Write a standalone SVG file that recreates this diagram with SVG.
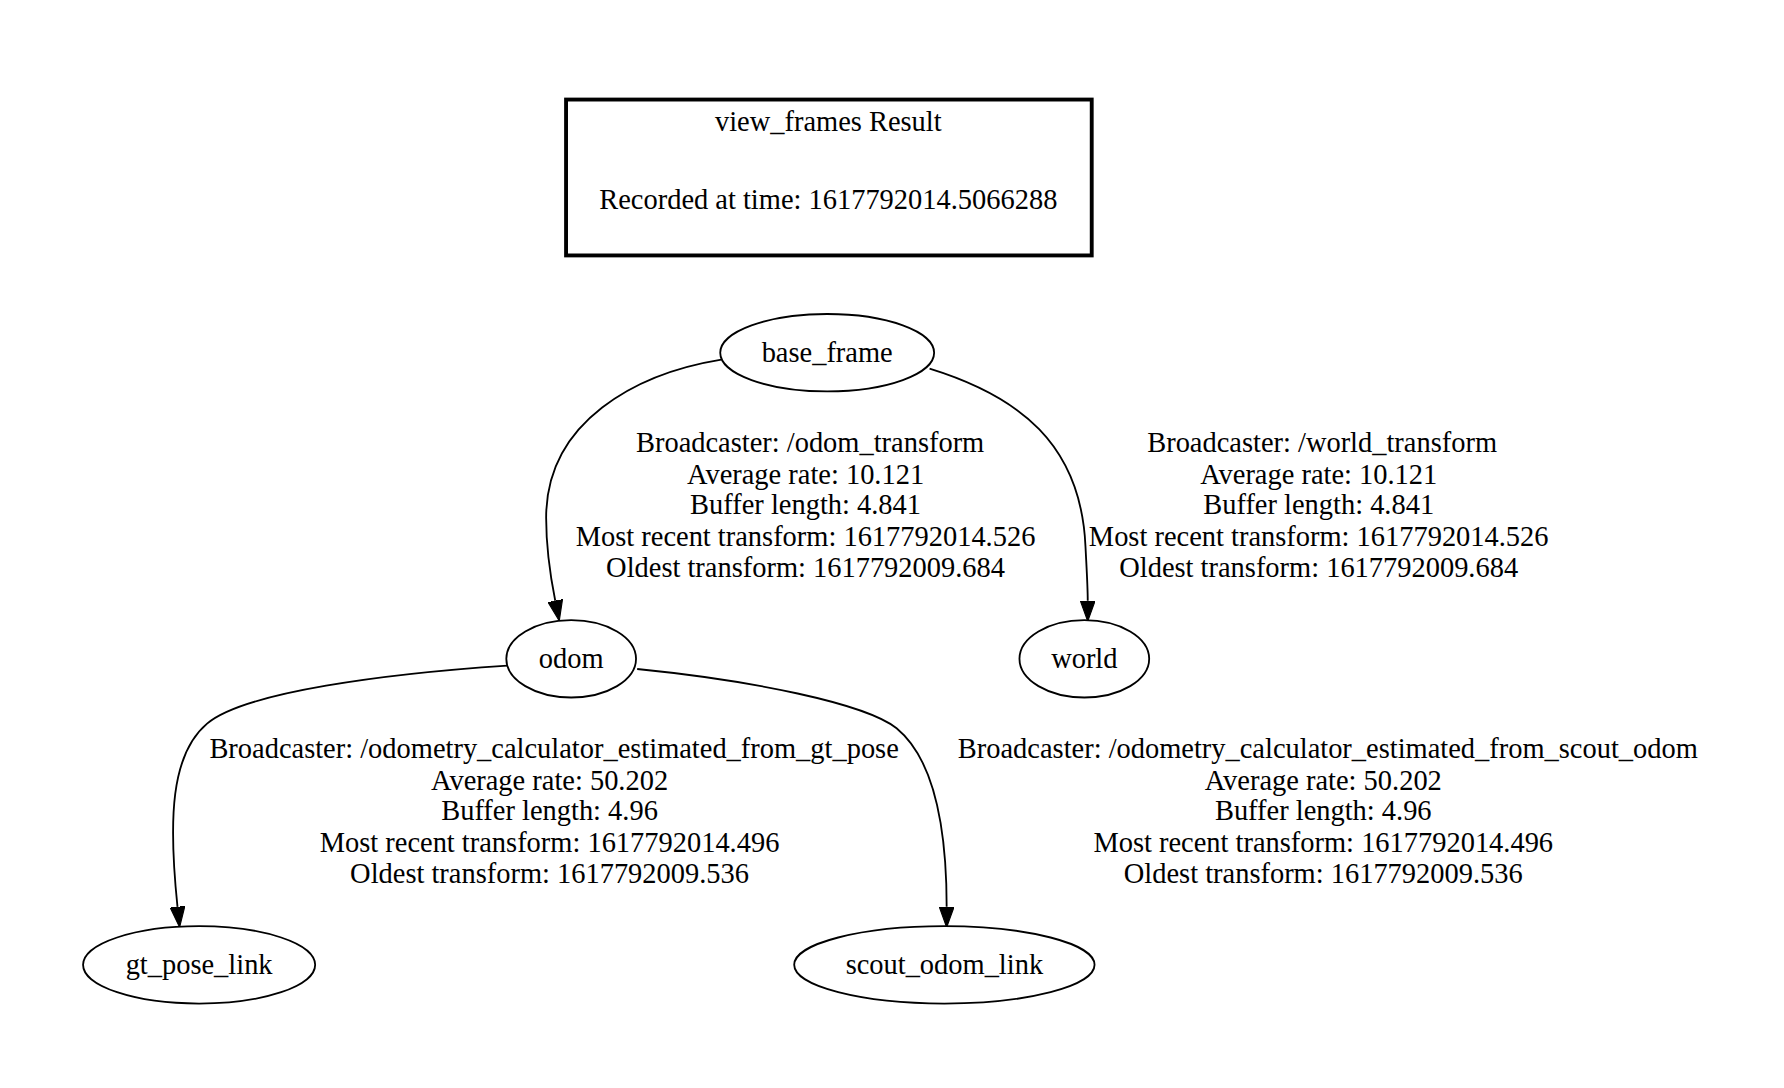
<svg xmlns="http://www.w3.org/2000/svg" width="1784" height="1088" viewBox="0 0 1784 1088">
<style>
text{font-family:"Liberation Serif","Times New Roman",serif;font-size:25px;fill:#000;text-anchor:middle}
.node{fill:none;stroke:#000;stroke-width:1.6}
.edge{fill:none;stroke:#000;stroke-width:1.6}
</style>
<defs>
<marker id="arr" viewBox="0 0 18 13" refX="0" refY="6.5" markerWidth="18" markerHeight="13" markerUnits="userSpaceOnUse" orient="auto">
<path d="M0,0 L18,6.5 L0,13 z" fill="#000" stroke="#000" stroke-width="1"/>
</marker>
</defs>
<rect width="1784" height="1088" fill="#fff"/>
<g transform="scale(1.1378)">
<g id="title">
<rect x="497.5" y="87.5" width="462" height="137" fill="none" stroke="#000" stroke-width="3.4"/>
<text x="728" y="115">view_frames Result</text>
<text x="728" y="184">Recorded at time: 1617792014.5066288</text>
</g>
<g id="connectors">
<path class="edge" d="M634,316 C560,328 480,370 480,455 C480,480 484,508 488,528" marker-end="url(#arr)"/>
<path class="edge" d="M817,324 C895,348 950,390 954,480 C955,500 956,515 956,528" marker-end="url(#arr)"/>
<path class="edge" d="M446,585 C340,592 215,608 182,636 C150,663 148,720 156,797" marker-end="url(#arr)"/>
<path class="edge" d="M560,588 C660,598 760,618 788,640 C822,668 832,730 832,797" marker-end="url(#arr)"/>
<g id="label_odom_transform">
<text x="712" y="397">Broadcaster: /odom_transform</text>
<text x="708" y="425">Average rate: 10.121</text>
<text x="708" y="452">Buffer length: 4.841</text>
<text x="708" y="480">Most recent transform: 1617792014.526</text>
<text x="708" y="507">Oldest transform: 1617792009.684</text>
</g>
<g id="label_world_transform">
<text x="1162" y="397">Broadcaster: /world_transform</text>
<text x="1159" y="425">Average rate: 10.121</text>
<text x="1159" y="452">Buffer length: 4.841</text>
<text x="1159" y="480">Most recent transform: 1617792014.526</text>
<text x="1159" y="507">Oldest transform: 1617792009.684</text>
</g>
<g id="label_gt_pose">
<text x="487" y="666">Broadcaster: /odometry_calculator_estimated_from_gt_pose</text>
<text x="483" y="694">Average rate: 50.202</text>
<text x="483" y="721">Buffer length: 4.96</text>
<text x="483" y="749">Most recent transform: 1617792014.496</text>
<text x="483" y="776">Oldest transform: 1617792009.536</text>
</g>
<g id="label_scout_odom">
<text x="1167" y="666">Broadcaster: /odometry_calculator_estimated_from_scout_odom</text>
<text x="1163" y="694">Average rate: 50.202</text>
<text x="1163" y="721">Buffer length: 4.96</text>
<text x="1163" y="749">Most recent transform: 1617792014.496</text>
<text x="1163" y="776">Oldest transform: 1617792009.536</text>
</g>
</g>
<g id="base_frame">
<ellipse class="node" cx="727" cy="310" rx="94" ry="34"/>
<text x="727" y="318">base_frame</text>
</g>
<g id="odom">
<ellipse class="node" cx="502" cy="579" rx="57" ry="34"/>
<text x="502" y="587">odom</text>
</g>
<g id="world">
<ellipse class="node" cx="953" cy="579" rx="57" ry="34"/>
<text x="953" y="587">world</text>
</g>
<g id="gt_pose_link">
<ellipse class="node" cx="175" cy="848" rx="102" ry="34"/>
<text x="175" y="856">gt_pose_link</text>
</g>
<g id="scout_odom_link">
<ellipse class="node" cx="830" cy="848" rx="132" ry="34"/>
<text x="830" y="856">scout_odom_link</text>
</g>
</g>
</svg>
